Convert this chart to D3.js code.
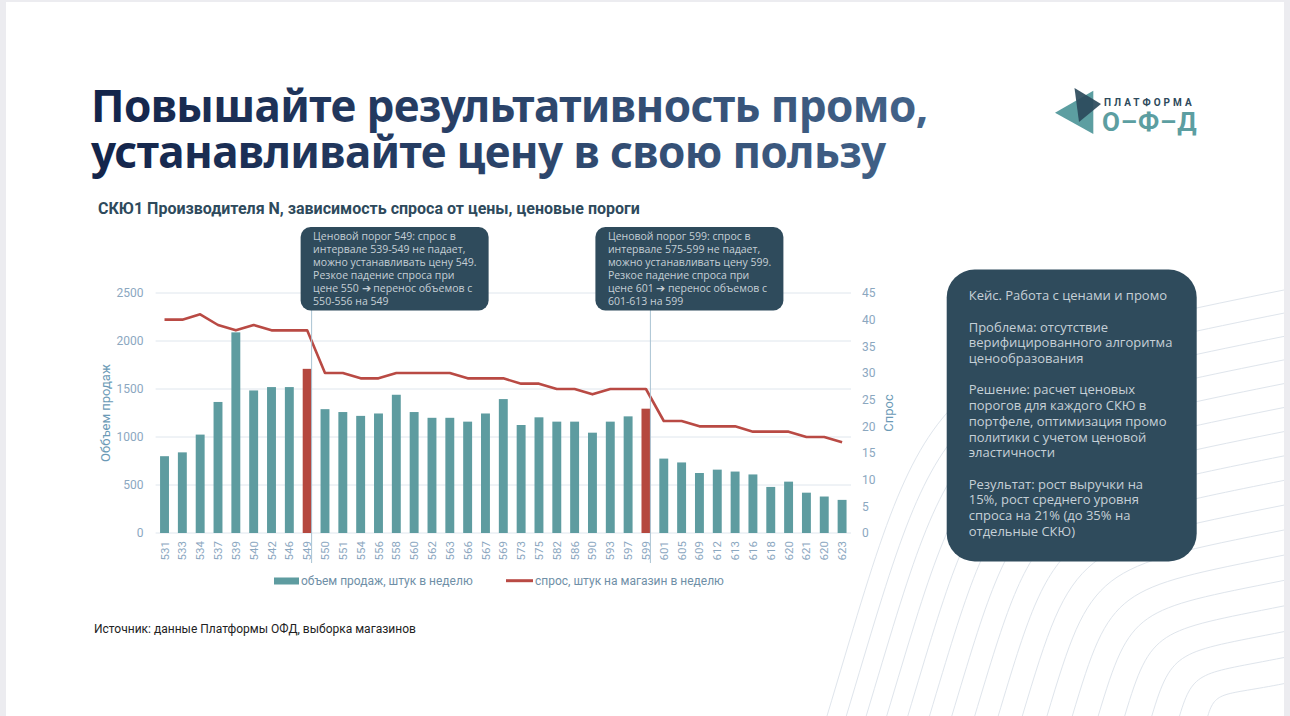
<!DOCTYPE html>
<html>
<head>
<meta charset="utf-8">
<script src="https://cdn.jsdelivr.net/npm/d3@7"></script>
<style>
  html, body { margin: 0; padding: 0; background: #ececf0; }
  svg { display: block; }
</style>
</head>
<body>
<div id="chart"></div>
<script>
// price points (x axis), the same price can repeat
let prices = ['531','533','534','537','539','540','542','546','549','550','551','554','556','558','560','562','563','566','567','569',
  '573','575','582','586','590','593','597','599','601','605','609','612','613','616','618','620','621','620','623'];

// объем продаж, штук в неделю
let volumes = [800, 840, 1025, 1365, 2090, 1485, 1520, 1520, 1710, 1290, 1260, 1220, 1245, 1440, 1260, 1200, 1200, 1160, 1245, 1395,
  1125, 1205, 1160, 1160, 1045, 1160, 1215, 1295, 775, 735, 625, 660, 640, 610, 480, 535, 420, 380, 345];

// спрос, штук на магазин в неделю
let demand = [40, 40, 41, 39, 38, 39, 38, 38, 38, 30, 30, 29, 29, 30, 30, 30, 30, 29, 29, 29,
  28, 28, 27, 27, 26, 27, 27, 27, 21, 21, 20, 20, 20, 19, 19, 19, 18, 18, 17];

// price thresholds (indexes of highlighted bars)
let thresholds = [8, 27];

let leftTicks = [0, 500, 1000, 1500, 2000, 2500];
let rightTicks = [0, 5, 10, 15, 20, 25, 30, 35, 40, 45];

let calloutTexts = [
  ['Ценовой порог 549: спрос в', 'интервале 539-549 не падает,', 'можно устанавливать цену 549.', 'Резкое падение спроса при', 'цене 550 \u2794 перенос объемов с', '550-556 на 549'],
  ['Ценовой порог 599: спрос в', 'интервале 575-599 не падает,', 'можно устанавливать цену 599.', 'Резкое падение спроса при', 'цене 601 \u2794 перенос объемов с', '601-613 на 599']
];

let caseTexts = [
  ['Кейс. Работа с ценами и промо'],
  ['Проблема: отсутствие', 'верифицированного алгоритма', 'ценообразования'],
  ['Решение: расчет ценовых', 'порогов для каждого СКЮ в', 'портфеле, оптимизация промо', 'политики с учетом ценовой', 'эластичности'],
  ['Результат: рост выручки на', '15%, рост среднего уровня', 'спроса на 21% (до 35% на', 'отдельные СКЮ)']
];

let W = 1290, H = 716;
let svg = d3.select('#chart').append('svg').attr('width', W).attr('height', H);

// slide
svg.append('rect').attr('x', 6).attr('y', 2).attr('width', 1278).attr('height', H).attr('fill', '#fff');

// decorative curves in the lower right
let deco = svg.append('g').attr('class', 'deco');
for (let k = 0; k < 17; k++) {
  let bx = 827 + 19 * k + 0.3 * k * k;
  let ry = 290 + 23 * k + 0.1 * k * k;
  let h = 716 - ry, w = 1284 - bx;
  let p = d3.path();
  p.moveTo(bx, 716);
  p.bezierCurveTo(bx + h * 0.24, 716 - h * 0.8, 1284 - w * 0.8, ry + w * 0.16, 1284, ry);
  deco.append('path').attr('d', p.toString()).attr('fill', 'none')
    .attr('stroke', '#dfe5ec').attr('stroke-width', 1);
}

// title
let defs = svg.append('defs');
let grad = defs.append('linearGradient').attr('id', 'titleGrad')
  .attr('gradientUnits', 'userSpaceOnUse').attr('x1', 91).attr('x2', 925).attr('y1', 0).attr('y2', 0);
grad.append('stop').attr('offset', '0%').attr('stop-color', '#13244a');
grad.append('stop').attr('offset', '100%').attr('stop-color', '#436389');

let titleFont = {family: 'Noto Sans, sans-serif', size: 44};
['Повышайте результативность промо,', 'устанавливайте цену в свою пользу'].forEach((s, i) => {
  svg.append('text').attr('x', 91).attr('y', 122 + i * 46)
    .attr('font-family', titleFont.family).attr('font-weight', 700)
    .attr('font-size', titleFont.size).attr('fill', 'url(#titleGrad)').attr('letter-spacing', -0.6)
    .text(s);
});

svg.append('text').attr('x', 98).attr('y', 214)
  .attr('font-family', 'Roboto, sans-serif').attr('font-weight', 700).attr('font-size', 16)
  .attr('fill', '#2e4a5c')
  .text('СКЮ1 Производителя N, зависимость спроса от цены, ценовые пороги');

// logo
let logo = svg.append('g').attr('class', 'logo');
logo.append('path').attr('d', 'M1055,112.7 L1093.3,90.7 L1093.3,134 Z').attr('fill', '#5c9ea1');
logo.append('path').attr('d', 'M1074.5,88 L1101,104 L1079,122 Z').attr('fill', '#2b4a5b').attr('opacity', 0.92);
logo.append('text').attr('x', 1104).attr('y', 106).attr('font-family', 'Roboto, sans-serif')
  .attr('font-weight', 700).attr('font-size', 10).attr('letter-spacing', 3).attr('fill', '#2e4a5c').text('ПЛАТФОРМА');
logo.append('text').attr('x', 1102).attr('y', 131).attr('font-family', 'Roboto, sans-serif')
  .attr('font-weight', 700).attr('font-size', 26).attr('letter-spacing', 0.8).attr('fill', '#5c9ea1').text('О–Ф–Д');

// chart
let plot = {left: 155.6, right: 851, top: 293, bottom: 533};

let x = d3.scaleBand().domain(d3.range(prices.length))
  .range([plot.left, plot.right]).paddingInner(0.5).paddingOuter(0.25);
let yL = d3.scaleLinear().domain([0, 2500]).range([plot.bottom, plot.top]);
let yR = d3.scaleLinear().domain([0, 45]).range([plot.bottom, plot.top]);

let axisColor = '#8ba7bf';
let chart = svg.append('g').attr('class', 'chart');

chart.append('g').attr('class', 'grid').selectAll('line').data(leftTicks).enter().append('line')
  .attr('x1', plot.left).attr('x2', plot.right)
  .attr('y1', d => yL(d)).attr('y2', d => yL(d))
  .attr('stroke', '#dfe6ed').attr('stroke-width', 1);

let leftAxis = chart.append('g').attr('transform', 'translate(' + (plot.left - 12) + ',0)')
  .call(d3.axisLeft(yL).tickValues(leftTicks).tickFormat(d3.format('d')).tickSize(0).tickPadding(0));
let rightAxis = chart.append('g').attr('transform', 'translate(' + (plot.right + 11) + ',0)')
  .call(d3.axisRight(yR).tickValues(rightTicks).tickSize(0).tickPadding(0));
let bottomAxis = chart.append('g').attr('transform', 'translate(0,' + plot.bottom + ')')
  .call(d3.axisBottom(x).tickFormat(i => prices[i]).tickSize(0));

[leftAxis, rightAxis, bottomAxis].forEach(a => {
  a.select('.domain').remove();
  a.selectAll('text').attr('font-family', 'Roboto, sans-serif').attr('font-size', 12).attr('fill', axisColor);
});
bottomAxis.selectAll('text').attr('font-size', 11.5)
  .attr('transform', 'rotate(-90)').attr('text-anchor', 'end')
  .attr('x', -8).attr('y', 0).attr('dy', '0.35em');

// bars
chart.append('g').attr('class', 'bars').selectAll('rect').data(volumes).enter().append('rect')
  .attr('x', (d, i) => x(i))
  .attr('width', x.bandwidth())
  .attr('y', d => yL(d))
  .attr('height', d => yL(0) - yL(d))
  .attr('fill', (d, i) => thresholds.indexOf(i) >= 0 ? '#b5483f' : '#5e9ca0');

// demand line
let line = d3.line().x((d, i) => x(i) + x.bandwidth() / 2).y(d => yR(d));
chart.append('path').datum(demand).attr('d', line)
  .attr('fill', 'none').attr('stroke', '#b94a44').attr('stroke-width', 2.6)
  .attr('stroke-linejoin', 'round');

// threshold markers + callouts
let calloutOffsets = [-11, -55];
thresholds.forEach((idx, n) => {
  let mx = x(idx) + x.bandwidth();
  chart.append('line').attr('x1', mx).attr('x2', mx).attr('y1', 305).attr('y2', 563)
    .attr('stroke', '#a9c3d3').attr('stroke-width', 1);
  let bx = mx + calloutOffsets[n];
  let g = svg.append('g').attr('transform', 'translate(' + bx + ',227)');
  g.append('rect').attr('width', 188).attr('height', 83.5).attr('rx', 10).attr('ry', 10).attr('fill', '#2f4b5c');
  let t = g.append('text').attr('font-family', 'Open Sans, sans-serif').attr('font-size', 10.5).attr('fill', '#c5cfd6');
  calloutTexts[n].forEach((s, j) => {
    t.append('tspan').attr('x', 12.5).attr('y', 13 + j * 12.9).text(s);
  });
});

// axis titles
svg.append('text').attr('transform', 'translate(110,413) rotate(-90)').attr('text-anchor', 'middle')
  .attr('font-family', 'Roboto, sans-serif').attr('font-size', 13).attr('fill', '#6b9ab6').text('Оббъем продаж');
svg.append('text').attr('transform', 'translate(893,413) rotate(-90)').attr('text-anchor', 'middle')
  .attr('font-family', 'Roboto, sans-serif').attr('font-size', 13).attr('fill', '#6b9ab6').text('Спрос');

// legend
let legend = svg.append('g').attr('class', 'legend');
legend.append('rect').attr('x', 274).attr('y', 577.5).attr('width', 25).attr('height', 7).attr('fill', '#5e9ca0');
legend.append('text').attr('x', 301).attr('y', 585).attr('font-family', 'Roboto, sans-serif').attr('font-size', 12)
  .attr('fill', '#6f8fa7').text('объем продаж, штук в неделю');
legend.append('line').attr('x1', 506).attr('x2', 533).attr('y1', 580.7).attr('y2', 580.7)
  .attr('stroke', '#b94a44').attr('stroke-width', 3);
legend.append('text').attr('x', 535).attr('y', 585).attr('font-family', 'Roboto, sans-serif').attr('font-size', 12)
  .attr('fill', '#6f8fa7').text('спрос, штук на магазин в неделю');

// case box
let cbox = svg.append('g').attr('transform', 'translate(946.7,269.5)');
cbox.append('rect').attr('width', 250).attr('height', 292).attr('rx', 28).attr('ry', 28).attr('fill', '#2f4b5c');
let ct = cbox.append('text').attr('font-family', 'Open Sans, sans-serif').attr('font-size', 13).attr('fill', '#c6d0d7');
let yy = 30.5;
caseTexts.forEach((para, p) => {
  para.forEach((s, j) => {
    ct.append('tspan').attr('x', 22).attr('y', yy).text(s);
    yy += 15.7;
  });
  yy += 15.8;
});

// source
svg.append('text').attr('x', 94).attr('y', 633).attr('font-family', 'Roboto, sans-serif').attr('font-size', 12)
  .attr('fill', '#222').text('Источник: данные Платформы ОФД, выборка магазинов');
</script>
</body>
</html>
